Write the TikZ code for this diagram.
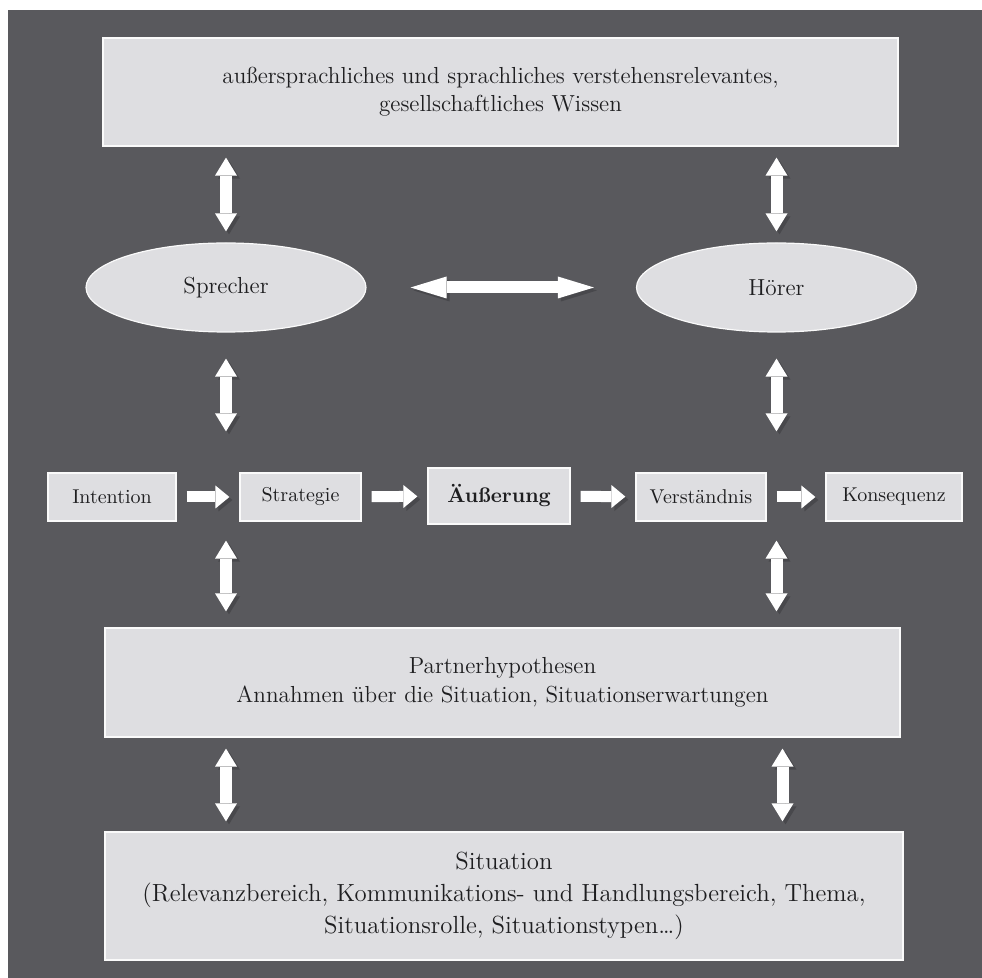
\documentclass[tikz,border=0pt]{standalone}
\usepackage{fontspec}
\usetikzlibrary{shapes.geometric,arrows.meta}
\definecolor{bgrey}{RGB}{89,89,93}
\definecolor{boxgrey}{RGB}{222,222,225}
\definecolor{textgrey}{RGB}{30,30,32}
\tikzset{
  box/.style={rectangle, fill=boxgrey, draw=white!85!boxgrey, line width=0.6pt, inner sep=0pt, text=textgrey, align=center},
  oval/.style={ellipse, fill=boxgrey, draw=white!85!boxgrey, line width=0.6pt, inner sep=0pt, text=textgrey},
  shade/.style={preaction={draw=black, opacity=0.18, transform canvas={shift={(1.5pt,-1.5pt)}}}},
  vdbl/.style={white, line width=6pt, shade, {Triangle[length=9pt,width=11pt,line width=0pt]}-{Triangle[length=9pt,width=11pt,line width=0pt]}},
  hdbl/.style={white, line width=6pt, shade, {Triangle[length=18pt,width=11pt,line width=0pt]}-{Triangle[length=18pt,width=11pt,line width=0pt]}},
  fwd/.style={white, line width=5.5pt, shade, -{Triangle[length=7pt,width=11.5pt,line width=0pt]}, shorten <=5pt, shorten >=5pt}
}
\begin{document}
\begin{tikzpicture}[x=0.5pt,y=-0.5pt]
\useasboundingbox[fill=white] (0,0) rectangle (982,978);
\fill[bgrey] (8,10) rectangle (982,978);

% Wissen
\node[box, minimum width=397.5pt, minimum height=54pt, font=\fontsize{11.6}{14}\selectfont] (wissen) at (500.5,92)
  {außersprachliches und sprachliches verstehensrelevantes,\\gesellschaftliches Wissen};

% Sprecher und Hoerer
\node[oval, minimum width=140pt, minimum height=44.5pt, font=\fontsize{11.6}{14}\selectfont] (sprecher) at (226,287.5) {Sprecher};
\node[oval, minimum width=140pt, minimum height=44.5pt, font=\fontsize{11.6}{14}\selectfont] (hoerer) at (776.5,287.5) {Hörer};

% Kette
\node[box, minimum width=64pt, minimum height=24pt, font=\fontsize{10}{12}\selectfont] (intention) at (112,497) {Intention};
\node[box, minimum width=60.5pt, minimum height=24pt, font=\fontsize{10}{12}\selectfont] (strategie) at (300.5,497) {Strategie};
\node[box, minimum width=71pt, minimum height=28pt, font=\fontsize{10.5}{12}\selectfont\bfseries] (aeusserung) at (499,496) {Äußerung};
\node[box, minimum width=65pt, minimum height=24pt, font=\fontsize{10}{12}\selectfont] (verstaendnis) at (701,497) {Verständnis};
\node[box, minimum width=68pt, minimum height=24pt, font=\fontsize{10}{12}\selectfont] (konsequenz) at (894,497) {Konsequenz};

% Partnerhypothesen
\node[box, minimum width=397.5pt, minimum height=54.5pt, font=\fontsize{11.6}{14.5}\selectfont] (partner) at (502.5,682.5)
  {Partnerhypothesen\\Annahmen über die Situation, Situationserwartungen};

% Situation
\node[box, minimum width=399pt, minimum height=64pt, font=\fontsize{12.4}{16}\selectfont] (situation) at (504,896)
  {Situation\\(Relevanzbereich, Kommunikations- und Handlungsbereich, Thema,\\Situationsrolle, Situationstypen\dots)};

% Pfeile
\draw[vdbl, shorten <=5.5pt, shorten >=5.5pt] (wissen.south -| sprecher) -- (sprecher.north);
\draw[vdbl, shorten <=5.5pt, shorten >=5.5pt] (wissen.south -| hoerer) -- (hoerer.north);
\draw[hdbl, shorten <=22pt, shorten >=21pt] (sprecher.east) -- (hoerer.west);
\draw[vdbl, shorten <=13pt, shorten >=20.5pt] (sprecher.south) -- (sprecher.south |- strategie.north);
\draw[vdbl, shorten <=13pt, shorten >=20.5pt] (hoerer.south) -- (hoerer.south |- verstaendnis.north);
\draw[vdbl, shorten <=9.5pt, shorten >=8pt] (sprecher.south |- strategie.south) -- (sprecher.south |- partner.north);
\draw[vdbl, shorten <=9.5pt, shorten >=8pt] (hoerer.south |- verstaendnis.south) -- (hoerer.south |- partner.north);
\draw[vdbl, shorten <=5.5pt, shorten >=5pt] (partner.south -| sprecher) -- (situation.north -| sprecher);
\draw[vdbl, shorten <=5.5pt, shorten >=5pt] ([xshift=3pt]partner.south -| hoerer) -- ([xshift=3pt]situation.north -| hoerer);
\draw[fwd] (intention) -- (strategie);
\draw[fwd] (strategie) -- (aeusserung);
\draw[fwd] (aeusserung) -- (verstaendnis);
\draw[fwd] (verstaendnis) -- (konsequenz);
\end{tikzpicture}
\end{document}
